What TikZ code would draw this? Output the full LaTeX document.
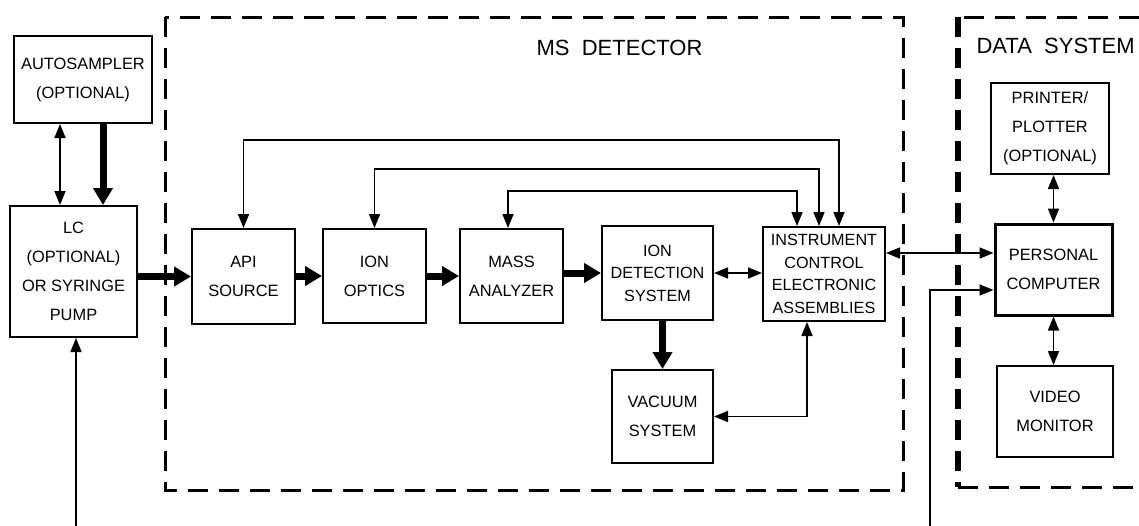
\documentclass[tikz,border=0pt]{standalone}
\usepackage{fontspec}
\setmainfont{Liberation Sans}
\usetikzlibrary{arrows.meta,calc}
\tikzset{
  box/.style={draw,line width=2pt,minimum width=103pt,minimum height=94pt,inner sep=0pt,align=center,font=\fontsize{16.4}{29}\selectfont},
  tbox/.style={box,font=\fontsize{16.2}{22.5}\selectfont},
  pcbox/.style={box,line width=3pt},
  lab/.style={font=\fontsize{22}{26}\selectfont},
  arr/.style={line width=1.6pt,-{Triangle[length=14pt,width=11pt]}},
  darr/.style={line width=1.6pt,{Triangle[length=14pt,width=11pt]}-{Triangle[length=14pt,width=11pt]}},
  tarr/.style={line width=7pt,-{Triangle[length=17pt,width=19pt]}},
  dframe/.style={line width=3pt,dash pattern=on 20pt off 11pt},
}
\begin{document}
\begin{tikzpicture}[x=1pt,y=-1pt]
\useasboundingbox (0,0) rectangle (1139,525);

% group frames
\draw[dframe] (165,17) rectangle (903,490);
\draw[dframe] (1139,17) -- (958,17);
\draw[dframe,line width=5.5pt] (958,17) -- (958,487);
\draw[dframe] (958,487) -- (1139,487);
\node[lab,anchor=base east] (msdet) at (706,55) {MS\ \ DETECTOR};
\node[lab,anchor=base west] (datsys) at (973,53) {DATA\ \ SYSTEM};

% blocks
\node[box,minimum width=138pt,minimum height=87pt] (auto) at (83,79.5) {AUTOSAMPLER\\(OPTIONAL)};
\node[box,minimum width=127pt,minimum height=131pt] (lc) at (73.5,271.5) {LC\\(OPTIONAL)\\OR SYRINGE\\PUMP};
\node[box,minimum height=95pt] (api) at (243.5,276.5) {API\\SOURCE};
\node[box] (ionopt) at (374.5,276) {ION\\OPTICS};
\node[box] (mass) at (511.5,276) {MASS\\ANALYZER};
\node[tbox,minimum width=111pt] (iondet) at (657.5,273) {ION\\DETECTION\\SYSTEM};
\node[tbox,minimum width=122pt] (instr) at (824,274) {INSTRUMENT\\CONTROL\\ELECTRONIC\\ASSEMBLIES};
\node[box,minimum width=101pt,minimum height=93pt] (vac) at (662.5,416.5) {VACUUM\\SYSTEM};
\node[box,minimum width=118pt,minimum height=91pt] (prn) at (1050,128.5) {PRINTER/\\PLOTTER\\(OPTIONAL)};
\node[pcbox,minimum width=117pt,minimum height=91pt] (pc) at (1053.5,269.5) {PERSONAL\\COMPUTER};
\node[box,minimum width=116pt,minimum height=91pt] (video) at (1055,411.5) {VIDEO\\MONITOR};

\coordinate (lcin) at (76,530);
\coordinate (pcin) at (930,530);

% sample path
\draw[darr] ([xshift=-23pt]auto.south) -- ([xshift=-23pt]auto.south |- lc.north);
\draw[tarr] ([xshift=20pt]auto.south) -- ([xshift=20pt]auto.south |- lc.north);
\draw[arr] (lcin) -- (lcin |- lc.south);
\draw[tarr] (lc.east |- api) -- (api.west);
\draw[tarr] (api.east |- ionopt) -- (ionopt.west);
\draw[tarr] (ionopt.east |- mass) -- (mass.west);
\draw[tarr] (mass.east |- iondet) -- (iondet.west);
\draw[tarr] (vac.north |- iondet.south) -- (vac.north);

% control lines
\draw[darr] (iondet.east) -- (instr.west |- iondet.east);
\draw[darr] ([xshift=-17pt]instr.south) |- (vac.east);
\draw[darr] ([xshift=15pt]instr.north) |- ([yshift=88pt]api.north) -- (api.north);
\draw[darr] ([xshift=-5pt]instr.north) |- ([yshift=59pt]ionopt.north) -- (ionopt.north);
\draw[darr] ([xshift=-27pt]instr.north) |- ([xshift=-3.5pt,yshift=37pt]mass.north) -- ([xshift=-3.5pt]mass.north);

% data system
\draw[darr] ([yshift=21pt]instr.east) -- ([yshift=21pt]instr.east -| pc.west);
\draw[arr] (pcin) |- ([yshift=-20.5pt]pc.west);
\draw[darr] (pc.north |- prn.south) -- (pc.north);
\draw[darr] (pc.south) -- (pc.south |- video.north);
\end{tikzpicture}
\end{document}
